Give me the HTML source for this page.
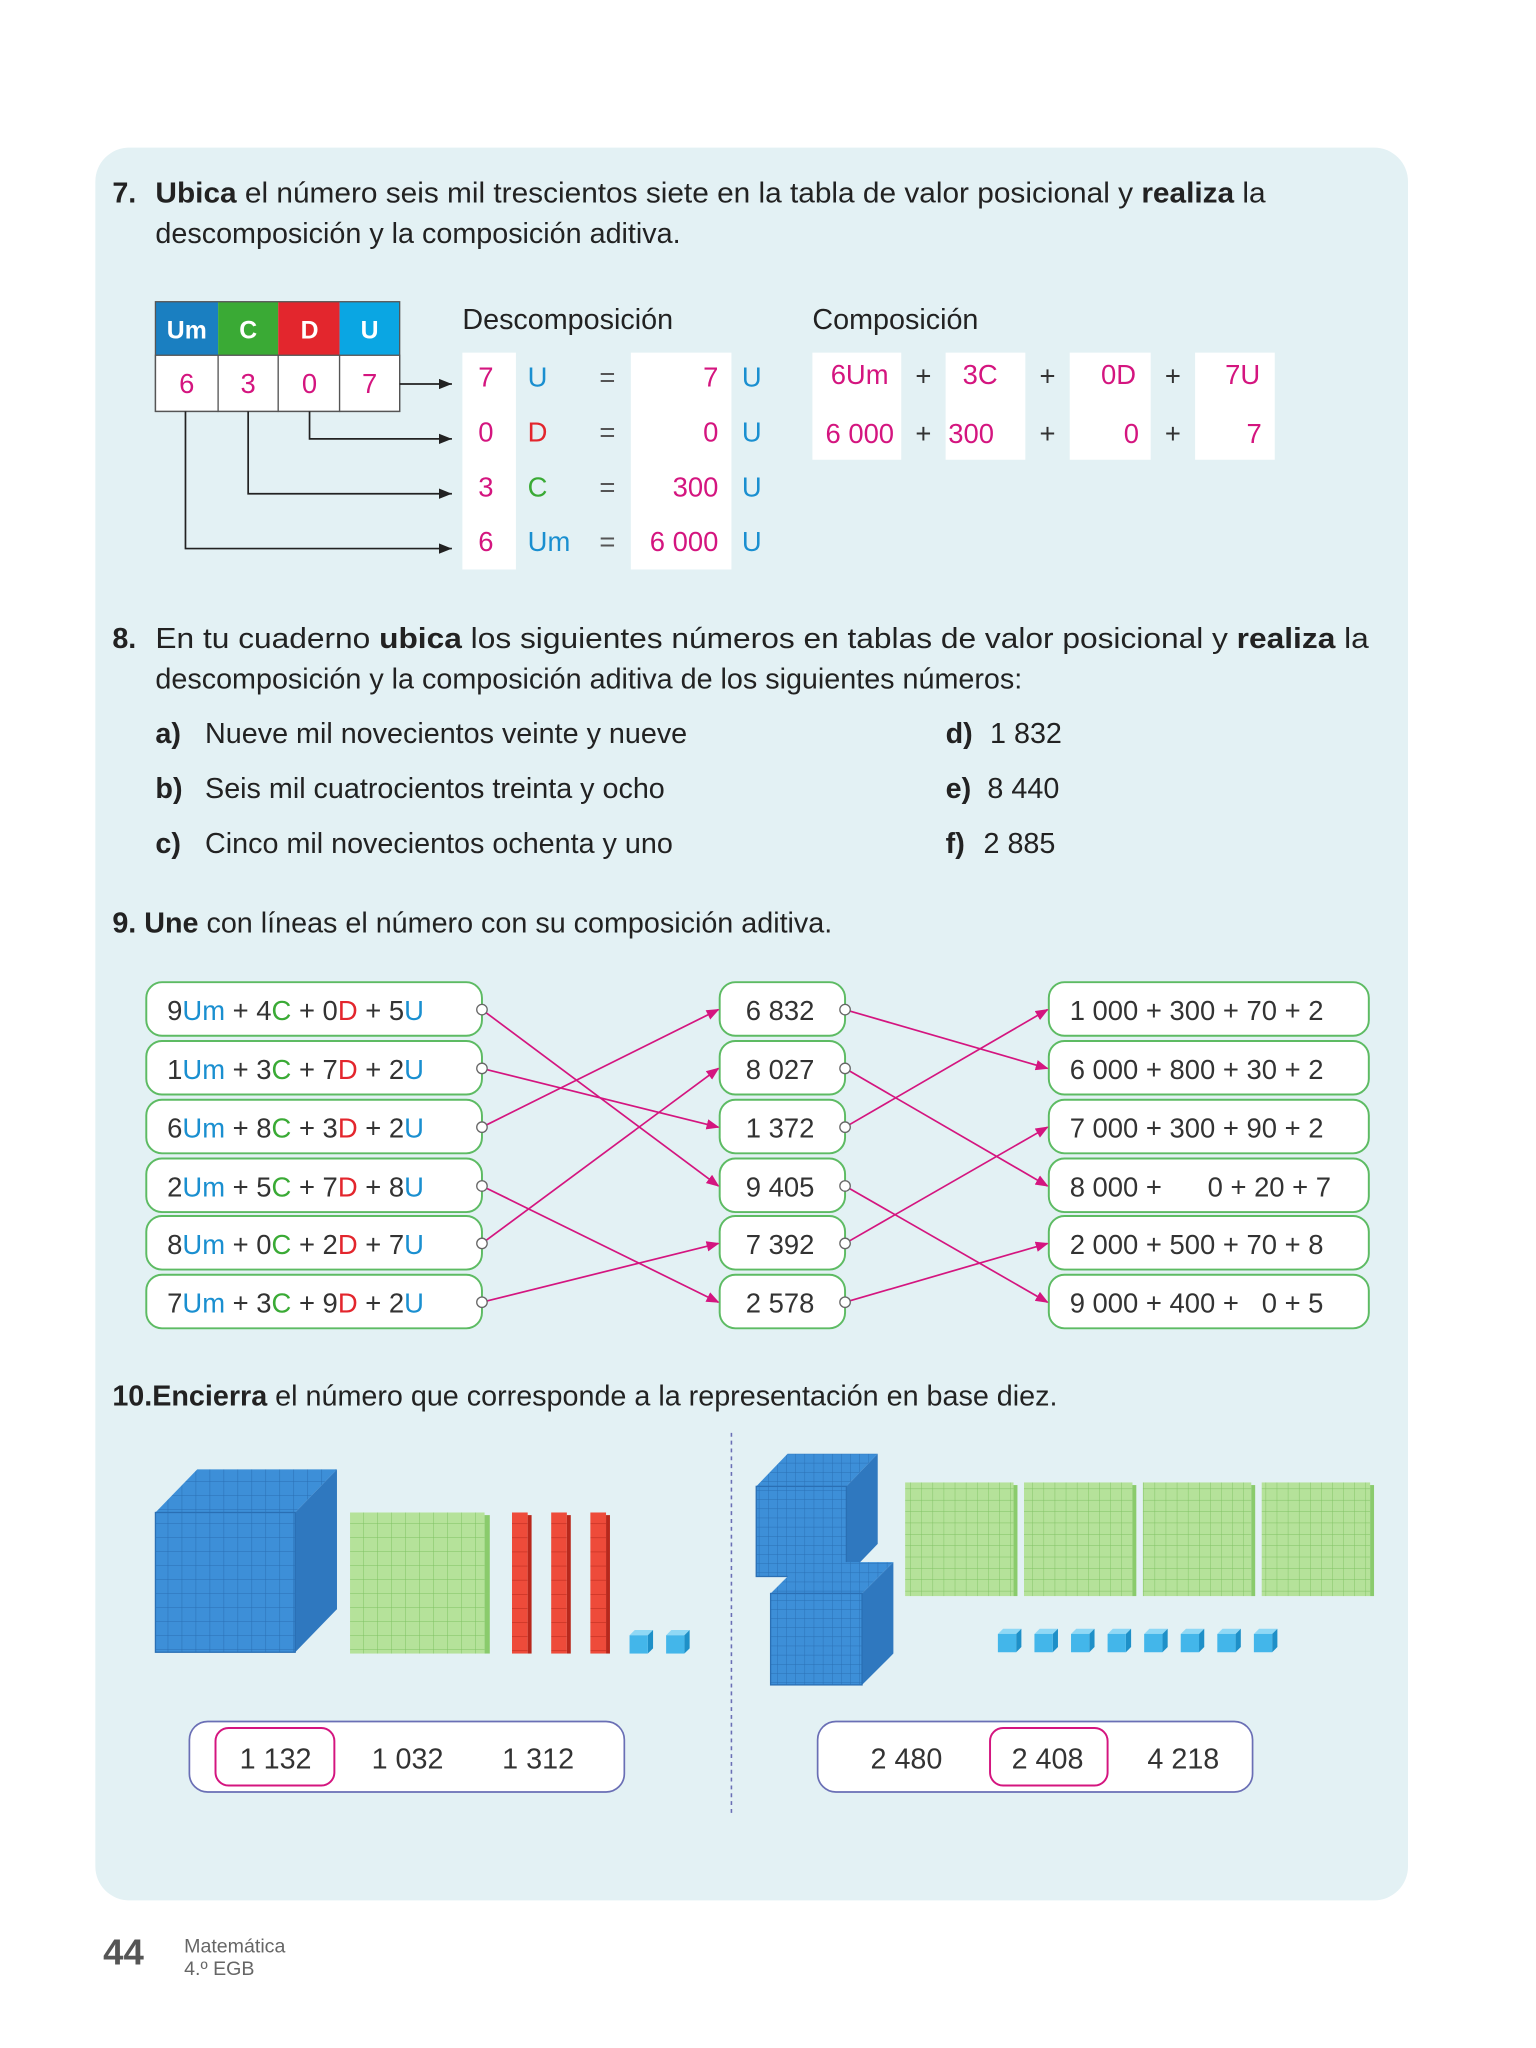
<!DOCTYPE html>
<html><head><meta charset="utf-8"><style>
html,body{margin:0;padding:0;background:#fff}
svg{display:block}
text{font-family:"Liberation Sans",sans-serif;white-space:pre}
</style></head><body>
<svg width="1536" height="2048" viewBox="0 0 1176 1568" xmlns="http://www.w3.org/2000/svg">
<defs>
<pattern id="gb" width="10.7" height="10.7" patternUnits="userSpaceOnUse"><rect width="10.7" height="10.7" fill="#3d8fd8"/><path d="M0 0H10.7M0 0V10.7" stroke="#2a6fb4" stroke-width="0.8"/></pattern>
<pattern id="gb2" width="7" height="7" patternUnits="userSpaceOnUse"><rect width="7" height="7" fill="#3d8fd8"/><path d="M0 0H7M0 0V7" stroke="#2a6fb4" stroke-width="0.7"/></pattern>
<pattern id="gg" width="10.7" height="10.7" patternUnits="userSpaceOnUse"><rect width="10.7" height="10.7" fill="#b5e29a"/><path d="M0 0H10.7M0 0V10.7" stroke="#7fc263" stroke-width="0.8"/></pattern>
<pattern id="gg2" width="8.5" height="8.7" patternUnits="userSpaceOnUse"><rect width="8.5" height="8.7" fill="#b5e29a"/><path d="M0 0H8.5M0 0V8.7" stroke="#7fc263" stroke-width="0.7"/></pattern>
<pattern id="gr" width="12" height="10.8" patternUnits="userSpaceOnUse"><rect width="12" height="10.8" fill="#ee4b3a"/><path d="M0 0H12" stroke="#b8281c" stroke-width="0.8"/></pattern>
<marker id="ak" markerWidth="10" markerHeight="8" refX="10" refY="4" orient="auto" markerUnits="userSpaceOnUse"><path d="M0 0L10 4L0 8z" fill="#222"/></marker>
<marker id="am" markerWidth="10" markerHeight="8" refX="9" refY="4" orient="auto" markerUnits="userSpaceOnUse"><path d="M0 0L10 4L0 8z" fill="#d4157f"/></marker>
</defs>
<rect x="73" y="113" width="1005" height="1342" rx="26" fill="#e3f1f4"/>

<!-- 7 -->
<g font-size="22" fill="#222">
<text x="86" y="155"><tspan font-weight="bold">7.</tspan></text>
<text x="119" y="155" textLength="850" lengthAdjust="spacingAndGlyphs"><tspan font-weight="bold">Ubica</tspan> el número seis mil trescientos siete en la tabla de valor posicional y <tspan font-weight="bold">realiza</tspan> la</text>
<text x="119" y="186">descomposición y la composición aditiva.</text>
</g>
<rect x="119" y="231" width="48" height="41" fill="#1a7fc1"/><rect x="167" y="231" width="46" height="41" fill="#3aaa35"/><rect x="213" y="231" width="47" height="41" fill="#e3262d"/><rect x="260" y="231" width="46" height="41" fill="#0aa6e3"/>
<g font-size="19" font-weight="bold" fill="#fff" text-anchor="middle"><text x="143" y="259">Um</text><text x="190" y="259">C</text><text x="237" y="259">D</text><text x="283" y="259">U</text></g>
<g fill="#fff" stroke="#555" stroke-width="1"><rect x="119" y="272" width="48" height="43"/><rect x="167" y="272" width="46" height="43"/><rect x="213" y="272" width="47" height="43"/><rect x="260" y="272" width="46" height="43"/></g>
<rect x="119" y="231" width="187" height="84" fill="none" stroke="#555"/>
<g font-size="21" fill="#d4157f" text-anchor="middle"><text x="143" y="301">6</text><text x="190" y="301">3</text><text x="237" y="301">0</text><text x="283" y="301">7</text></g>
<g stroke="#222" stroke-width="1.3" fill="none" marker-end="url(#ak)">
<path d="M306 294H346"/><path d="M237 315V336H346"/><path d="M190 315V378H346"/><path d="M142 315V420H346"/>
</g>
<text x="354" y="252" font-size="22" fill="#222">Descomposición</text>
<rect x="354" y="270" width="41" height="166" fill="#fff"/><rect x="483" y="270" width="77" height="166" fill="#fff"/>
<g font-size="21">
<g fill="#d4157f" text-anchor="middle"><text x="372" y="296">7</text><text x="372" y="338">0</text><text x="372" y="380">3</text><text x="372" y="422">6</text></g>
<text x="404" y="296" fill="#1a8fd0">U</text><text x="404" y="338" fill="#e3262d">D</text><text x="404" y="380" fill="#3aaa35">C</text><text x="404" y="422" fill="#1a8fd0">Um</text>
<g fill="#555" text-anchor="middle"><text x="465" y="296">=</text><text x="465" y="338">=</text><text x="465" y="380">=</text><text x="465" y="422">=</text></g>
<g fill="#d4157f" text-anchor="end"><text x="550" y="296">7</text><text x="550" y="338">0</text><text x="550" y="380">300</text><text x="550" y="422">6 000</text></g>
<g fill="#1a8fd0"><text x="568" y="296">U</text><text x="568" y="338">U</text><text x="568" y="380">U</text><text x="568" y="422">U</text></g>
</g>
<text x="622" y="252" font-size="22" fill="#222">Composición</text>
<g fill="#fff"><rect x="622" y="270" width="68" height="82"/><rect x="724" y="270" width="61" height="82"/><rect x="819" y="270" width="62" height="82"/><rect x="915" y="270" width="61" height="82"/></g>
<g font-size="21" fill="#d4157f">
<text x="636" y="294">6Um</text><text x="737" y="294">3C</text><text x="843" y="294">0D</text><text x="938" y="294">7U</text>
<text x="632" y="339">6 000</text><text x="726" y="339">300</text><text x="872" y="339" text-anchor="end">0</text><text x="966" y="339" text-anchor="end">7</text>
</g>
<g font-size="21" fill="#333" text-anchor="middle"><text x="707" y="295">+</text><text x="802" y="295">+</text><text x="898" y="295">+</text><text x="707" y="339">+</text><text x="802" y="339">+</text><text x="898" y="339">+</text></g>

<!-- 8 -->
<g font-size="22" fill="#222">
<text x="86" y="496" font-weight="bold">8.</text>
<text x="119" y="496" textLength="929" lengthAdjust="spacingAndGlyphs">En tu cuaderno <tspan font-weight="bold">ubica</tspan> los siguientes números en tablas de valor posicional y <tspan font-weight="bold">realiza</tspan> la</text>
<text x="119" y="527">descomposición y la composición aditiva de los siguientes números:</text>
<text x="119" y="569" font-weight="bold">a)</text><text x="157" y="569">Nueve mil novecientos veinte y nueve</text>
<text x="119" y="611" font-weight="bold">b)</text><text x="157" y="611">Seis mil cuatrocientos treinta y ocho</text>
<text x="119" y="653" font-weight="bold">c)</text><text x="157" y="653">Cinco mil novecientos ochenta y uno</text>
<text x="724" y="569" font-weight="bold">d)</text><text x="758" y="569">1 832</text>
<text x="724" y="611" font-weight="bold">e)</text><text x="756" y="611">8 440</text>
<text x="724" y="653" font-weight="bold">f)</text><text x="753" y="653">2 885</text>
<text x="86" y="714"><tspan font-weight="bold">9. Une</tspan> con líneas el número con su composición aditiva.</text>
</g>

<!-- 9 boxes -->
<g fill="#fff" stroke="#5dbb63" stroke-width="1.5">
<rect x="112" y="752" width="257" height="41" rx="12"/><rect x="112" y="797" width="257" height="41" rx="12"/><rect x="112" y="842" width="257" height="41" rx="12"/><rect x="112" y="887" width="257" height="41" rx="12"/><rect x="112" y="931" width="257" height="41" rx="12"/><rect x="112" y="976" width="257" height="41" rx="12"/>
<rect x="551" y="752" width="96" height="41" rx="12"/><rect x="551" y="797" width="96" height="41" rx="12"/><rect x="551" y="842" width="96" height="41" rx="12"/><rect x="551" y="887" width="96" height="41" rx="12"/><rect x="551" y="931" width="96" height="41" rx="12"/><rect x="551" y="976" width="96" height="41" rx="12"/>
<rect x="803" y="752" width="245" height="41" rx="12"/><rect x="803" y="797" width="245" height="41" rx="12"/><rect x="803" y="842" width="245" height="41" rx="12"/><rect x="803" y="887" width="245" height="41" rx="12"/><rect x="803" y="931" width="245" height="41" rx="12"/><rect x="803" y="976" width="245" height="41" rx="12"/>
</g>
<g font-size="21" fill="#333">
<text x="128" y="781">9<tspan fill="#1a8fd0">Um</tspan> + 4<tspan fill="#3aaa35">C</tspan> + 0<tspan fill="#e3262d">D</tspan> + 5<tspan fill="#1a8fd0">U</tspan></text>
<text x="128" y="826">1<tspan fill="#1a8fd0">Um</tspan> + 3<tspan fill="#3aaa35">C</tspan> + 7<tspan fill="#e3262d">D</tspan> + 2<tspan fill="#1a8fd0">U</tspan></text>
<text x="128" y="871">6<tspan fill="#1a8fd0">Um</tspan> + 8<tspan fill="#3aaa35">C</tspan> + 3<tspan fill="#e3262d">D</tspan> + 2<tspan fill="#1a8fd0">U</tspan></text>
<text x="128" y="916">2<tspan fill="#1a8fd0">Um</tspan> + 5<tspan fill="#3aaa35">C</tspan> + 7<tspan fill="#e3262d">D</tspan> + 8<tspan fill="#1a8fd0">U</tspan></text>
<text x="128" y="960">8<tspan fill="#1a8fd0">Um</tspan> + 0<tspan fill="#3aaa35">C</tspan> + 2<tspan fill="#e3262d">D</tspan> + 7<tspan fill="#1a8fd0">U</tspan></text>
<text x="128" y="1005">7<tspan fill="#1a8fd0">Um</tspan> + 3<tspan fill="#3aaa35">C</tspan> + 9<tspan fill="#e3262d">D</tspan> + 2<tspan fill="#1a8fd0">U</tspan></text>
<text x="571" y="781">6 832</text><text x="571" y="826">8 027</text><text x="571" y="871">1 372</text><text x="571" y="916">9 405</text><text x="571" y="960">7 392</text><text x="571" y="1005">2 578</text>
<text x="819" y="781">1 000 + 300 + 70 + 2</text><text x="819" y="826">6 000 + 800 + 30 + 2</text><text x="819" y="871">7 000 + 300 + 90 + 2</text><text x="819" y="916">8 000 +      0 + 20 + 7</text><text x="819" y="960">2 000 + 500 + 70 + 8</text><text x="819" y="1005">9 000 + 400 +   0 + 5</text>
</g>
<g stroke="#d4157f" stroke-width="1.3" fill="none" marker-end="url(#am)">
<path d="M369 773L550 908"/><path d="M369 818L550 863"/><path d="M369 863L550 773"/><path d="M369 908L550 997"/><path d="M369 952L550 818"/><path d="M369 997L550 952"/>
<path d="M647 773L802 818"/><path d="M647 818L802 908"/><path d="M647 863L802 773"/><path d="M647 908L802 997"/><path d="M647 952L802 863"/><path d="M647 997L802 952"/>
</g>
<g fill="#fff" stroke="#666" stroke-width="1">
<circle cx="369" cy="773" r="4"/><circle cx="369" cy="818" r="4"/><circle cx="369" cy="863" r="4"/><circle cx="369" cy="908" r="4"/><circle cx="369" cy="952" r="4"/><circle cx="369" cy="997" r="4"/>
<circle cx="647" cy="773" r="4"/><circle cx="647" cy="818" r="4"/><circle cx="647" cy="863" r="4"/><circle cx="647" cy="908" r="4"/><circle cx="647" cy="952" r="4"/><circle cx="647" cy="997" r="4"/>
</g>

<!-- 10 -->
<text x="86" y="1076" font-size="22" fill="#222"><tspan font-weight="bold">10.Encierra</tspan> el número que corresponde a la representación en base diez.</text>
<line x1="560" y1="1097" x2="560" y2="1390" stroke="#6a6fb5" stroke-width="1.2" stroke-dasharray="3 3"/>

<polygon points="119,1158 151,1125 258,1125 226,1158" fill="url(#gb)"/>
<polygon points="226,1158 258,1125 258,1232 226,1265" fill="#2f78bf"/>
<rect x="119" y="1158" width="107" height="107" fill="url(#gb)" stroke="#2a6fb4"/>
<rect x="268" y="1158" width="103" height="108" fill="url(#gg)"/><rect x="371" y="1160" width="4" height="106" fill="#8acb6c"/>
<rect x="392" y="1158" width="12" height="108" fill="url(#gr)"/><rect x="404" y="1160" width="3" height="106" fill="#b8281c"/>
<rect x="422" y="1158" width="12" height="108" fill="url(#gr)"/><rect x="434" y="1160" width="3" height="106" fill="#b8281c"/>
<rect x="452" y="1158" width="12" height="108" fill="url(#gr)"/><rect x="464" y="1160" width="3" height="106" fill="#b8281c"/>
<g id="u"><polygon points="482,1252 486,1248 500,1248 496,1252" fill="#8fd8f5"/><polygon points="496,1252 500,1248 500,1262 496,1266" fill="#1e90c8"/><rect x="482" y="1252" width="14" height="14" fill="#43b6ea"/></g>
<use href="#u" x="28"/>

<polygon points="579,1138 603,1113 672,1113 648,1138" fill="url(#gb2)"/>
<polygon points="648,1138 672,1113 672,1182 648,1207" fill="#2f78bf"/>
<rect x="579" y="1138" width="69" height="69" fill="url(#gb2)" stroke="#2a6fb4"/>
<polygon points="590,1220 614,1196 684,1196 660,1220" fill="url(#gb2)"/>
<polygon points="660,1220 684,1196 684,1266 660,1290" fill="#2f78bf"/>
<rect x="590" y="1220" width="70" height="70" fill="url(#gb2)" stroke="#2a6fb4"/>
<g><rect x="693" y="1135" width="83" height="87" fill="url(#gg2)"/><rect x="776" y="1137" width="3" height="85" fill="#8acb6c"/>
<rect x="784" y="1135" width="83" height="87" fill="url(#gg2)"/><rect x="867" y="1137" width="3" height="85" fill="#8acb6c"/>
<rect x="875" y="1135" width="83" height="87" fill="url(#gg2)"/><rect x="958" y="1137" width="3" height="85" fill="#8acb6c"/>
<rect x="966" y="1135" width="83" height="87" fill="url(#gg2)"/><rect x="1049" y="1137" width="3" height="85" fill="#8acb6c"/></g>
<g transform="translate(282,-1)"><use href="#u"/><use href="#u" x="28"/><use href="#u" x="56"/><use href="#u" x="84"/><use href="#u" x="112"/><use href="#u" x="140"/><use href="#u" x="168"/><use href="#u" x="196"/></g>

<rect x="145" y="1318" width="333" height="54" rx="14" fill="#fff" stroke="#6a6fb5" stroke-width="1.3"/>
<rect x="165" y="1323" width="91" height="44" rx="10" fill="none" stroke="#d4157f" stroke-width="1.5"/>
<rect x="626" y="1318" width="333" height="54" rx="14" fill="#fff" stroke="#6a6fb5" stroke-width="1.3"/>
<rect x="758" y="1323" width="90" height="44" rx="10" fill="none" stroke="#d4157f" stroke-width="1.5"/>
<g font-size="22" fill="#333" text-anchor="middle"><text x="211" y="1354">1 132</text><text x="312" y="1354">1 032</text><text x="412" y="1354">1 312</text><text x="694" y="1354">2 480</text><text x="802" y="1354">2 408</text><text x="906" y="1354">4 218</text></g>

<text x="79" y="1504" font-size="28" font-weight="bold" fill="#555">44</text>
<text x="141" y="1495" font-size="15" fill="#666">Matemática</text>
<text x="141" y="1512" font-size="15" fill="#666">4.º EGB</text>
</svg>
</body></html>
